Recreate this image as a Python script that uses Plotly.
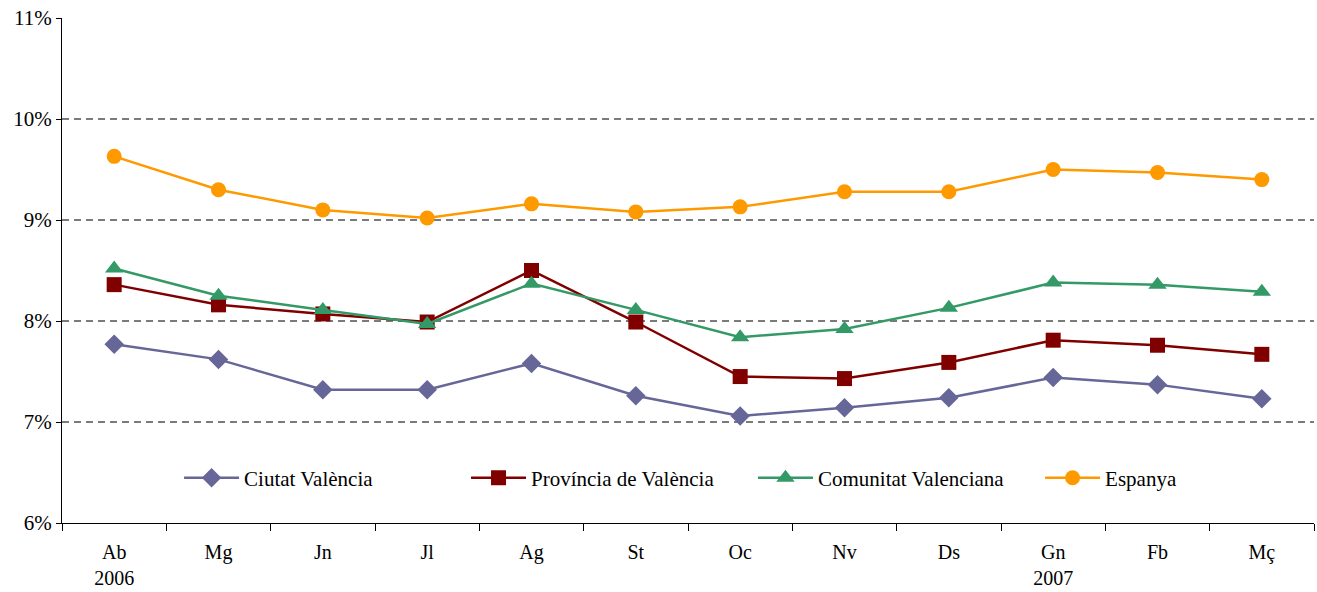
import plotly.graph_objects as go

months = ["Ab<br>2006", "Mg", "Jn", "Jl", "Ag", "St", "Oc", "Nv", "Ds", "Gn<br>2007", "Fb", "Mç"]
ciutat = [7.77, 7.62, 7.32, 7.32, 7.58, 7.26, 7.06, 7.14, 7.24, 7.44, 7.37, 7.23]
provincia = [8.36, 8.16, 8.07, 7.99, 8.50, 7.99, 7.45, 7.43, 7.59, 7.81, 7.76, 7.67]
comunitat = [8.52, 8.25, 8.11, 7.97, 8.37, 8.11, 7.84, 7.92, 8.13, 8.38, 8.36, 8.29]
espanya = [9.63, 9.30, 9.10, 9.02, 9.16, 9.08, 9.13, 9.28, 9.28, 9.50, 9.47, 9.40]
names = ["Ciutat València", "Província de València", "Comunitat Valenciana", "Espanya"]
y_ticks = [6, 7, 8, 9, 10, 11]
y_tick_text = ["6%", "7%", "8%", "9%", "10%", "11%"]
grid_vals = [7, 8, 9, 10]

series = [ciutat, provincia, comunitat, espanya]
colors = ["#666699", "#800000", "#339966", "#FF9900"]
symbols = ["diamond", "square", "triangle-up", "circle"]
sizes = [15, 15, 16, 15]
legend_ids = ["legend", "legend2", "legend3", "legend4"]
legend_x = [0.0935, 0.3227, 0.5519, 0.7812]

fig = go.Figure()
for name, vals, c, s, sz, lg in zip(names, series, colors, symbols, sizes, legend_ids):
    fig.add_trace(go.Scatter(
        x=months, y=vals, name=name, mode="lines+markers",
        line=dict(color=c, width=2.5),
        marker=dict(symbol=s, size=sz, color=c),
        legend=lg,
    ))

for g in grid_vals:
    fig.add_shape(type="line", xref="paper", x0=0, x1=1, yref="y", y0=g, y1=g,
                  line=dict(color="#505050", width=1.3, dash="7px,5px"), layer="below")

legend_common = dict(orientation="h", y=0.089, xanchor="left", yanchor="middle",
                     bgcolor="rgba(0,0,0,0)", itemwidth=55, font=dict(size=21))

fig.update_layout(
    width=1317, height=592,
    margin=dict(l=62, r=3, t=18, b=69),
    paper_bgcolor="white", plot_bgcolor="white",
    font=dict(family="Liberation Serif, Times New Roman, serif", size=21, color="black"),
    showlegend=True,
    **{lg: dict(x=lx, **legend_common) for lg, lx in zip(legend_ids, legend_x)},
)
fig.update_xaxes(
    type="category", showline=True, linecolor="black", linewidth=1.3,
    ticks="outside", tickson="boundaries", ticklen=7, tickcolor="black", tickwidth=1.3,
    showgrid=False, range=[-0.5, 11.5], fixedrange=True, automargin=False,
    ticklabelstandoff=11, tickfont=dict(size=20),
)
fig.update_yaxes(
    range=[6, 11], tickvals=y_ticks, ticktext=y_tick_text,
    showline=True, linecolor="black", linewidth=1.3,
    ticks="outside", ticklen=5, tickcolor="black", tickwidth=1.3,
    showgrid=False, zeroline=False, automargin=False, ticklabeloverflow="allow",
)
# remove the browser's default 8px body margin so the figure fills the window
fig.write_html("out.html",
               config={"displayModeBar": False},
               post_script="document.body.style.margin='0';document.body.style.overflow='hidden';")
